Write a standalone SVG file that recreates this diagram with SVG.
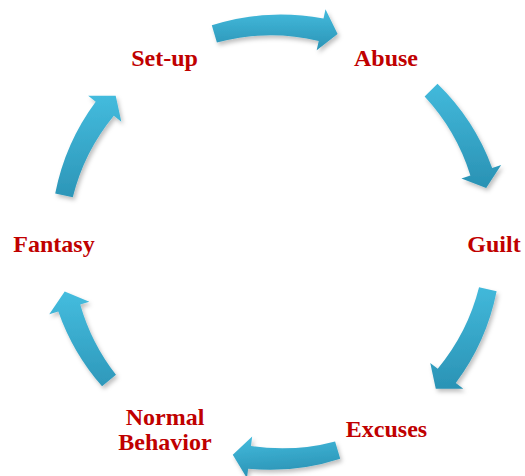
<svg xmlns="http://www.w3.org/2000/svg" xmlns:xlink="http://www.w3.org/1999/xlink" width="525" height="476" viewBox="0 0 525 476">
  <style>
    .lbl { font-family: "Liberation Serif", "Times New Roman", serif; font-weight: bold; font-size: 24px; fill: #c00000; text-anchor: middle; }
  </style>
  <defs>
    <path id="arrow-a" d="M211.8,25.3 A227,227 0 0 1 323.5,18.5 L325.5,9.2 L337.6,33.9 L316.7,50.3 L318.7,41.0 A206,206 0 0 0 216.9,42.6 Z"/>
    <path id="arrow-b" d="M223.2,22.2 A227,227 0 0 1 323.5,18.5 L325.5,9.2 L337.6,33.9 L316.7,50.3 L318.7,41.0 A206,206 0 0 0 227.4,39.7 Z"/>
    <path id="arrow-c" d="M230.9,20.5 A227,227 0 0 1 323.5,18.5 L325.5,9.2 L337.6,33.9 L316.7,50.3 L318.7,41.0 A206,206 0 0 0 234.5,38.2 Z"/>
    <path id="arrow-d" d="M236.8,19.4 A227,227 0 0 1 323.5,18.5 L325.5,9.2 L337.6,33.9 L316.7,50.3 L318.7,41.0 A206,206 0 0 0 239.9,37.2 Z"/>
    <filter id="shadow" x="-20%" y="-20%" width="140%" height="140%">
      <feDropShadow dx="2" dy="3" stdDeviation="2.2" flood-color="#000" flood-opacity="0.25"/>
    </filter>
    <linearGradient id="g0" gradientUnits="userSpaceOnUse" x1="275" y1="8" x2="275" y2="52"><stop offset="0" stop-color="#44bcde"/><stop offset="1" stop-color="#2a92b4"/></linearGradient>
    <linearGradient id="g1" gradientUnits="userSpaceOnUse" x1="227.4" y1="2.5" x2="322.6" y2="57.5"><stop offset="0" stop-color="#44bcde"/><stop offset="1" stop-color="#2a92b4"/></linearGradient>
    <linearGradient id="g2" gradientUnits="userSpaceOnUse" x1="227.4" y1="57.5" x2="322.6" y2="2.5"><stop offset="0" stop-color="#44bcde"/><stop offset="1" stop-color="#2a92b4"/></linearGradient>
    <linearGradient id="g3" gradientUnits="userSpaceOnUse" x1="275" y1="52" x2="275" y2="8"><stop offset="0" stop-color="#44bcde"/><stop offset="1" stop-color="#2a92b4"/></linearGradient>
    <linearGradient id="g4" gradientUnits="userSpaceOnUse" x1="322.6" y1="57.5" x2="227.4" y2="2.5"><stop offset="0" stop-color="#44bcde"/><stop offset="1" stop-color="#2a92b4"/></linearGradient>
    <linearGradient id="g5" gradientUnits="userSpaceOnUse" x1="322.6" y1="2.5" x2="227.4" y2="57.5"><stop offset="0" stop-color="#44bcde"/><stop offset="1" stop-color="#2a92b4"/></linearGradient>
  </defs>

  <g id="connectors">
    <g filter="url(#shadow)"><use xlink:href="#arrow-a" href="#arrow-a" fill="url(#g0)"/></g>
    <g filter="url(#shadow)"><use xlink:href="#arrow-b" href="#arrow-b" fill="url(#g1)" transform="rotate(59.1 276 242)"/></g>
    <g filter="url(#shadow)"><use xlink:href="#arrow-b" href="#arrow-b" fill="url(#g2)" transform="rotate(116.1 276 242)"/></g>
    <g filter="url(#shadow)"><use xlink:href="#arrow-c" href="#arrow-c" fill="url(#g3)" transform="rotate(175 276 242)"/></g>
    <g filter="url(#shadow)"><use xlink:href="#arrow-d" href="#arrow-d" fill="url(#g4)" transform="rotate(240.3 276 242)"/></g>
    <g filter="url(#shadow)"><use xlink:href="#arrow-b" href="#arrow-b" fill="url(#g5)" transform="rotate(295.9 276 242)"/></g>
  </g>

  <g id="node-setup"><text class="lbl" x="164.5" y="66">Set-up</text></g>
  <g id="node-abuse"><text class="lbl" x="386" y="66">Abuse</text></g>
  <g id="node-guilt"><text class="lbl" x="494" y="252">Guilt</text></g>
  <g id="node-excuses"><text class="lbl" x="386.5" y="437">Excuses</text></g>
  <g id="node-normal"><text class="lbl" x="165" y="425">Normal</text><text class="lbl" x="165" y="450">Behavior</text></g>
  <g id="node-fantasy"><text class="lbl" x="54" y="252">Fantasy</text></g>
</svg>
